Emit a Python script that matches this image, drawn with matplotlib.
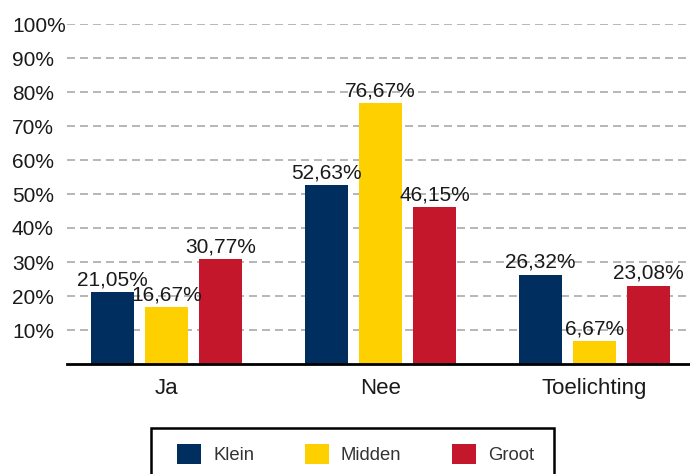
import matplotlib
matplotlib.use("Agg")
import matplotlib.pyplot as plt
import matplotlib.patches as mpatches
import numpy as np
from matplotlib.ticker import FixedLocator, FuncFormatter

categories = ["Ja", "Nee", "Toelichting"]
series_names = ["Klein", "Midden", "Groot"]
klein = [21.05, 52.63, 26.32]
midden = [16.67, 76.67, 6.67]
groot = [30.77, 46.15, 23.08]
colors = ["#002F5F", "#FFD000", "#C4172C"]
yticks = [10, 20, 30, 40, 50, 60, 70, 80, 90, 100]

plt.rcParams['font.family'] = ['Liberation Sans', 'DejaVu Sans']

W, H = 690, 474
fig = plt.figure(figsize=(W/100, H/100), dpi=100)
ax = fig.add_axes([67/W, 1-364/H, (690-67)/W, (364-24)/H])

x = np.arange(len(categories))
width = 0.2
offsets = [-0.252, 0, 0.252]
for vals, name, col, off in zip([klein, midden, groot], series_names, colors, offsets):
    bars = ax.bar(x + off, vals, width, color=col, label=name, zorder=3)
    for b, v in zip(bars, vals):
        ax.annotate(f"{v:.2f}%".replace(".", ","), (b.get_x() + b.get_width()/2, v),
                    xytext=(0, 5), textcoords="offset points",
                    ha="center", va="baseline", fontsize=15, color="#1a1a1a", zorder=4)

ax.set_xlim(-0.465, 2.446)
ax.set_ylim(0, 100)
ax.yaxis.set_major_locator(FixedLocator(yticks))
ax.yaxis.set_major_formatter(FuncFormatter(lambda v, p: f"{int(v)}%"))
ax.set_xticks(x)
ax.set_xticklabels(categories)
ax.tick_params(axis='y', length=0, labelsize=15, pad=39.6, colors="#1a1a1a")
for lbl in ax.get_yticklabels():
    lbl.set_horizontalalignment("left")
ax.tick_params(axis='x', length=0, labelsize=16, pad=10, colors="#1a1a1a")
ax.grid(axis='y', linestyle=(0, (4.8, 3.0)), color="#aaaaaa", linewidth=1.2, zorder=0)
ax.grid(axis='x', visible=False)
for s in ["top", "right", "left"]:
    ax.spines[s].set_visible(False)
ax.spines["bottom"].set_linewidth(2.0)
ax.spines["bottom"].set_color("black")
ax.spines["bottom"].set_zorder(5)

# legend frame
rect = mpatches.Rectangle((151/W, -0.05), (554-151)/W, (1-428/H) + 0.05,
                          transform=fig.transFigure, fill=False, edgecolor="black",
                          linewidth=1.8, clip_on=False)
fig.add_artist(rect)

leg = fig.legend(loc="center left", bbox_to_anchor=(177/W, 1-454/H), ncol=3, frameon=False,
                 fontsize=13.3, handlelength=1.3, handleheight=1.3, columnspacing=2.74,
                 handletextpad=0.65, borderpad=0, borderaxespad=0)
for t in leg.get_texts():
    t.set_color("#333333")

fig.savefig("out.png", dpi=100)
